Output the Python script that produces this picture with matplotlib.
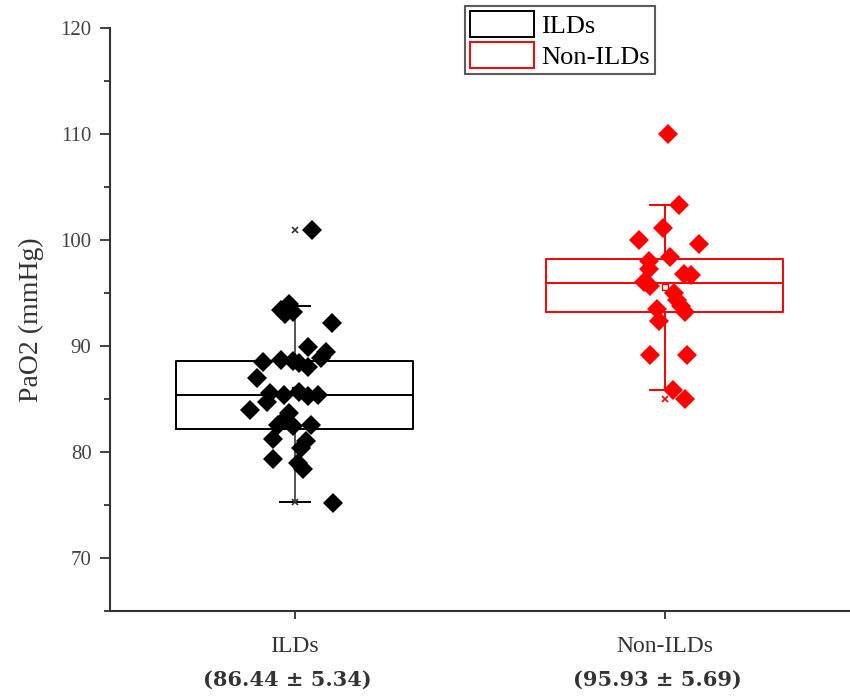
import matplotlib.pyplot as plt
from matplotlib.patches import Patch
from matplotlib.ticker import MultipleLocator
from matplotlib.transforms import blended_transform_factory

plt.rcParams['font.family'] = ['Liberation Serif', 'DejaVu Serif']

# Dữ liệu
groups = ['ILDs', 'Non-ILDs']
summary = ['(86.44 ± 5.34)', '(95.93 ± 5.69)']
colors = ['black', '#ff0000']

ild_vals = [100.9, 93.4, 94.0, 93.0, 93.2, 92.2, 89.9, 89.4, 88.9, 88.5,
            88.7, 88.6, 88.4, 88.0, 87.0, 85.6, 85.4, 85.7, 85.3, 85.4,
            84.7, 84.0, 83.7, 83.0, 82.5, 82.4, 82.5, 81.2, 81.0, 80.4,
            79.3, 79.0, 78.4, 75.2]
ild_jitter = [0.046, -0.038, -0.016, -0.025, -0.005, 0.101, 0.036, 0.085, 0.071, -0.087,
              -0.038, -0.005, 0.011, 0.036, -0.101, -0.066, -0.030, 0.011, 0.036, 0.063,
              -0.074, -0.120, -0.016, -0.030, -0.044, -0.005, 0.044, -0.060, 0.030, 0.016,
              -0.060, 0.008, 0.022, 0.104]

non_vals = [110.0, 103.3, 101.1, 100.0, 99.6, 98.4, 98.0, 97.3, 96.8, 96.7,
            96.0, 95.7, 95.0, 94.3, 93.8, 93.2, 93.5, 92.4, 89.1, 89.1,
            85.8, 85.0]
non_jitter = [0.008, 0.038, -0.005, -0.071, 0.093, 0.014, -0.044, -0.044, 0.052, 0.071,
              -0.057, -0.041, 0.025, 0.033, 0.044, 0.055, -0.022, -0.016, -0.041, 0.060,
              0.022, 0.055]

# Thống kê hộp (Q1, trung vị, Q3, râu, trung bình, min/max)
q1 = [82.2, 93.2]
med = [85.4, 95.9]
q3 = [88.6, 98.2]
whis_lo = [75.3, 85.8]
whis_hi = [93.8, 103.3]
means = [85.8, 95.6]
mins = [75.3, 85.0]
maxs = [100.9, 110.0]

fig = plt.figure(figsize=(8.5, 6.99), dpi=100)
ax = fig.add_axes([0.129, 0.126, 0.871, 0.834])

positions = [1, 2]
for i, pos in enumerate(positions):
    stats = [dict(q1=q1[i], med=med[i], q3=q3[i], whislo=whis_lo[i], whishi=whis_hi[i],
                  mean=means[i], fliers=[])]
    c = colors[i]
    ax.bxp(stats, positions=[pos], widths=0.64, showmeans=True, showfliers=False,
           boxprops=dict(color=c, linewidth=1.4),
           medianprops=dict(color=c, linewidth=1.4),
           whiskerprops=dict(color=c if i else '#555555', linewidth=1.4),
           capprops=dict(color=c, linewidth=1.4), capwidths=0.08,
           meanprops=dict(marker='s', markerfacecolor='none', markeredgecolor=c,
                          markersize=5, markeredgewidth=1),
           manage_ticks=False, zorder=2)
    ax.plot([pos, pos], [mins[i], maxs[i]], linestyle='none', marker='x',
            color=c if i else '#333333', markersize=5, markeredgewidth=1.2, zorder=2)

all_vals = [ild_vals, non_vals]
all_jit = [ild_jitter, non_jitter]
for i, pos in enumerate(positions):
    xs = [pos + j for j in all_jit[i]]
    ax.plot(xs, all_vals[i], linestyle='none', marker='D', color=colors[i],
            markersize=10.5, markeredgewidth=0, zorder=3)

ax.set_xlim(0.5, 2.5)
ax.set_ylim(65, 120)
ax.yaxis.set_major_locator(MultipleLocator(10))
ax.yaxis.set_minor_locator(MultipleLocator(5))
ax.set_yticks([70, 80, 90, 100, 110, 120])
ax.set_xticks(positions)
ax.set_xticklabels(groups, fontsize=17, color='#333333')

for s in ['top', 'right']:
    ax.spines[s].set_visible(False)
for s in ['left', 'bottom']:
    ax.spines[s].set_color('#333333')
    ax.spines[s].set_linewidth(1.5)
ax.tick_params(axis='y', which='major', length=7, width=1.3, color='#333333',
               labelsize=15, labelcolor='#444444', pad=6)
ax.tick_params(axis='y', which='minor', length=4, width=1.3, color='#333333')
ax.tick_params(axis='x', length=6, width=1.3, color='#333333', pad=12)

ax.set_ylabel('PaO2 (mmHg)', fontsize=20, color='#333333', labelpad=12)

trans = blended_transform_factory(ax.transData, ax.transAxes)
for i, pos in enumerate(positions):
    ax.text(pos - 0.02, -0.118, summary[i], transform=trans, ha='center', va='center',
            fontsize=15, fontweight='bold', color='#333333',
            family=['DejaVu Serif'])

handles = [Patch(facecolor='white', edgecolor=colors[0], linewidth=1.4),
           Patch(facecolor='white', edgecolor=colors[1], linewidth=1.4)]
leg = fig.legend(handles, groups, loc='upper left', bbox_to_anchor=(0.547, 0.992),
                 bbox_transform=fig.transFigure, fontsize=19, frameon=True,
                 fancybox=False, edgecolor='#333333', handlelength=2.4,
                 handleheight=1.15, handletextpad=0.3, labelspacing=0.15,
                 borderpad=0.2, borderaxespad=0)
leg.get_frame().set_linewidth(1.5)

plt.savefig('out.png', dpi=100)
plt.close()
